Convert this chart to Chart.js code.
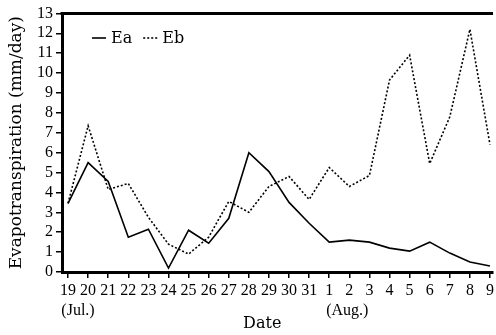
<!DOCTYPE html>
<html>
<head>
<meta charset="utf-8">
<script src="https://cdn.jsdelivr.net/npm/chart.js@4.4.1/dist/chart.umd.min.js"></script>
<style>
  html, body { margin: 0; padding: 0; background: #fff; }
</style>
</head>
<body>
<canvas id="myChart" width="496" height="335"></canvas>
<script>
// dates from 19 Jul. to 9 Aug.
const dayLabels = ['19', '20', '21', '22', '23', '24', '25', '26', '27', '28', '29', '30', '31',
                   '1', '2', '3', '4', '5', '6', '7', '8', '9'];
// month notes shown under the first day of each month
const monthNotes = { 0: '(Jul.)', 13: '(Aug.)' };

const eaValues = [3.45, 5.5, 4.55, 1.75, 2.15, 0.2, 2.1, 1.45, 2.7, 6.0, 5.05, 3.5, 2.45,
                  1.5, 1.6, 1.5, 1.2, 1.05, 1.5, 0.95, 0.5, 0.3];
const ebValues = [3.45, 7.35, 4.15, 4.45, 2.75, 1.4, 0.9, 1.75, 3.55, 3.0, 4.3, 4.8, 3.65,
                  5.25, 4.3, 4.85, 9.65, 10.9, 5.45, 7.8, 12.2, 6.4];

const tickFont = { family: 'Liberation Serif', size: 16, lineHeight: 1.3 };
const titleFont = { family: 'DejaVu Serif', size: 16 };

// top frame line + legend drawn inside the plot area
const framePlugin = {
    id: 'frame',
    afterDraw(chart) {
        const { ctx, chartArea } = chart;
        ctx.save();
        ctx.strokeStyle = '#000';
        ctx.lineWidth = 3;
        ctx.beginPath();
        ctx.moveTo(chartArea.left - 1.5, chartArea.top);
        ctx.lineTo(chartArea.right, chartArea.top);
        ctx.stroke();

        // legend
        let x = 92;
        const y = 38;
        ctx.font = "16px 'DejaVu Serif', serif";
        ctx.textBaseline = 'middle';
        ctx.fillStyle = '#000';
        chart.data.datasets.forEach(ds => {
            ctx.lineWidth = ds.borderWidth;
            ctx.setLineDash(ds.borderDash || []);
            ctx.beginPath();
            ctx.moveTo(x, y);
            ctx.lineTo(x + 14, y);
            ctx.stroke();
            ctx.setLineDash([]);
            ctx.fillText(ds.label, x + 19, y + 1);
            x += 19 + ctx.measureText(ds.label).width + 11;
        });
        ctx.restore();
    }
};

new Chart(document.getElementById('myChart'), {
    type: 'line',
    data: {
        datasets: [{
            label: 'Ea',
            data: eaValues.map((v, i) => ({ x: i, y: v })),
            borderColor: '#000',
            borderWidth: 1.6,
            pointRadius: 0,
            tension: 0
        }, {
            label: 'Eb',
            data: ebValues.map((v, i) => ({ x: i, y: v })),
            borderColor: '#000',
            borderWidth: 1.6,
            borderDash: [2, 2],
            pointRadius: 0,
            tension: 0
        }]
    },
    options: {
        responsive: false,
        animation: false,
        layout: { padding: { top: 12, right: 1, left: 0, bottom: 0 } },
        plugins: {
            legend: { display: false },
            tooltip: { enabled: false }
        },
        scales: {
            x: {
                type: 'linear',
                min: -0.3,
                max: 21.15,
                afterBuildTicks: axis => {
                    axis.ticks = dayLabels.map((_, i) => ({ value: i }));
                },
                afterFit: scale => { scale.height = 63; },
                border: { color: '#000', width: 3 },
                grid: { drawOnChartArea: false, color: '#000', lineWidth: 1.5, tickLength: 6 },
                ticks: {
                    color: '#000',
                    font: tickFont,
                    padding: 2,
                    maxRotation: 0,
                    autoSkip: false,
                    callback: v => {
                        const note = monthNotes[v];
                        if (v === 0) return [dayLabels[v], '     ' + note];
                        if (v === 13) return [dayLabels[v], '         ' + note];
                        return dayLabels[v];
                    }
                },
                title: {
                    display: true,
                    text: 'Date      ',
                    color: '#000',
                    font: titleFont,
                    padding: { top: 0, bottom: 2 }
                }
            },
            y: {
                min: 0,
                max: 13,
                afterBuildTicks: axis => {
                    axis.ticks = Array.from({ length: 14 }, (_, i) => ({ value: i }));
                },
                afterFit: scale => { scale.width = 62; },
                border: { color: '#000', width: 3 },
                grid: { drawOnChartArea: false, color: '#000', lineWidth: 1.5, tickLength: 6 },
                ticks: {
                    autoSkip: false,
                    color: '#000',
                    font: tickFont,
                    padding: 3
                },
                title: {
                    display: true,
                    text: 'Evapotranspiration (mm/day)',
                    color: '#000',
                    font: { family: 'DejaVu Serif', size: 17 },
                    padding: { top: 6, bottom: 2 }
                }
            }
        }
    },
    plugins: [framePlugin]
});
</script>
</body>
</html>
